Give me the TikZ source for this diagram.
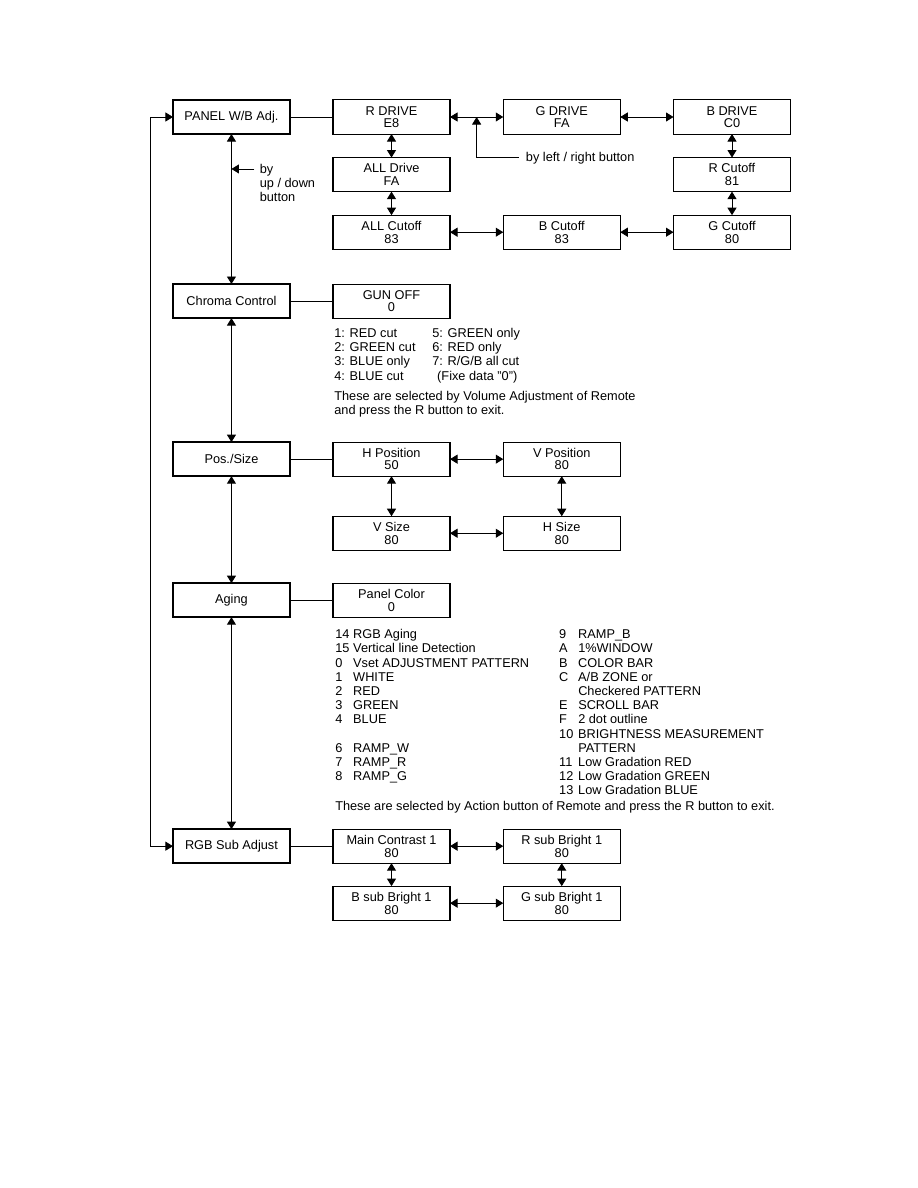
\documentclass[tikz,border=0pt]{standalone}
\usepackage{fontspec}
\setmainfont{Liberation Sans}
\usetikzlibrary{arrows.meta,positioning,calc}

\begin{document}
\begin{tikzpicture}[node distance=15.7pt and 35.5pt,
  >={Triangle[length=5pt,width=6pt]},
  mainbox/.style={draw,line width=1.3pt,minimum width=78pt,minimum height=22.7pt,
    inner sep=1pt,outer sep=0pt,font=\fontsize{8.5}{8.7}\selectfont},
  subbox/.style={draw,line width=0.7pt,minimum width=78pt,minimum height=22.7pt,
    inner sep=1pt,outer sep=0pt,text depth=0pt,align=center,
    font=\fontsize{8.5}{8.3}\selectfont},
  link/.style={line width=0.6pt},
  note/.style={inner sep=0pt,anchor=base west,font=\fontsize{8.5}{9.47}\selectfont}]
\useasboundingbox (0,0) rectangle (612pt,-792pt);
\node[mainbox] (panel) at (154.3pt,-78pt) {PANEL W/B Adj.};
\node[mainbox,below=100pt of panel] (chroma) {Chroma Control};
\node[mainbox,below=82.7pt of chroma] (possize) {Pos./Size};
\node[mainbox,below=71.3pt of possize] (aging) {Aging};
\node[mainbox,below=141.3pt of aging] (rgbsub) {RGB Sub Adjust};
\draw[link,<->] (panel) -- (chroma);
\draw[link,<->] (chroma) -- (possize);
\draw[link,<->] (possize) -- (aging);
\draw[link,<->] (aging) -- (rgbsub);
\coordinate (loop) at ($(panel.west)+(-14.7pt,0)$);
\draw[link,<->] (panel.west) -- (loop) |- (rgbsub.west);
\coordinate (udtip) at ($(panel.south)+(0,-23.3pt)$);
\coordinate (udfrom) at ($(udtip)+(15.3pt,0)$);
\draw[link,->] (udfrom) -- (udtip);
\node[note] (updown) at ($(udtip)+(18.7pt,-3pt)$)
  {\begin{tabular}[t]{@{}l@{}}by\\up / down\\button\end{tabular}};

\node[subbox,right=28.7pt of panel] (rdrive) {R DRIVE\\E8};
\node[subbox,right=of rdrive] (gdrive) {G DRIVE\\FA};
\node[subbox,right=of gdrive] (bdrive) {B DRIVE\\C0};
\node[subbox,below=of rdrive] (alldrive) {ALL Drive\\FA};
\node[subbox,below=of alldrive] (allcut) {ALL Cutoff\\83};
\node[subbox,right=of allcut] (bcut) {B Cutoff\\83};
\node[subbox,below=of bdrive] (rcut) {R Cutoff\\81};
\node[subbox,below=of rcut] (gcut) {G Cutoff\\80};
\draw[link] (panel) -- (rdrive);
\draw[link,<->] (rdrive) -- (gdrive);
\draw[link,<->] (gdrive) -- (bdrive);
\draw[link,<->] (bdrive) -- (rcut);
\draw[link,<->] (rcut) -- (gcut);
\draw[link,<->] (gcut) -- (bcut);
\draw[link,<->] (bcut) -- (allcut);
\draw[link,<->] (allcut) -- (alldrive);
\draw[link,<->] (alldrive) -- (rdrive);
\coordinate (lrtip) at ($(rdrive.east)!0.5!(gdrive.west)$);
\coordinate (lrturn) at ($(lrtip)+(0,-26.7pt)$);
\coordinate (lrfrom) at ($(lrturn)+(28pt,0)$);
\draw[link,->] (lrfrom) -- (lrturn) -- (lrtip);
\node[note] (lrnote) at ($(lrfrom)+(4.7pt,-3pt)$) {by left / right button};

\node[subbox,right=28.7pt of chroma] (gunoff) {GUN OFF\\0};
\draw[link] (chroma) -- (gunoff);
\node[note] (gunlist) at ($(gunoff.south west)+(0.7pt,-13pt)$)
  {\begin{tabular}[t]{@{}p{65.3pt}@{}l@{}}
  1: RED cut & 5: GREEN only\\
  2: GREEN cut & 6: RED only\\
  3: BLUE only & 7: R/G/B all cut\\
  4: BLUE cut & \hspace{3.3pt}(Fixe data "0")\\[3.9pt]
  \multicolumn{2}{@{}l@{}}{These are selected by Volume Adjustment of Remote}\\
  \multicolumn{2}{@{}l@{}}{and press the R button to exit.}
  \end{tabular}};

\node[subbox,right=28.7pt of possize] (hpos) {H Position\\50};
\node[subbox,right=of hpos] (vpos) {V Position\\80};
\node[subbox,below=26.7pt of hpos] (vsize) {V Size\\80};
\node[subbox,right=of vsize] (hsize) {H Size\\80};
\draw[link] (possize) -- (hpos);
\draw[link,<->] (hpos) -- (vpos);
\draw[link,<->] (hpos) -- (vsize);
\draw[link,<->] (vpos) -- (hsize);
\draw[link,<->] (vsize) -- (hsize);

\node[subbox,right=28.7pt of aging] (panelcol) {Panel Color\\0};
\draw[link] (aging) -- (panelcol);
\node[note] (patlist) at ($(panelcol.south west)+(1.3pt,-14.3pt)$)
  {\begin{tabular}[t]{@{}p{12pt}@{}p{137.3pt}@{}p{12.7pt}@{}l@{}}
  14 & RGB Aging & 9 & RAMP\_B\\
  15 & Vertical line Detection & A & 1\%WINDOW\\
  0 & Vset ADJUSTMENT PATTERN & B & COLOR BAR\\
  1 & WHITE & C & A/B ZONE or\\
  2 & RED & & Checkered PATTERN\\
  3 & GREEN & E & SCROLL BAR\\
  4 & BLUE & F & 2 dot outline\\
  & & 10 & BRIGHTNESS MEASUREMENT\\
  6 & RAMP\_W & & PATTERN\\
  7 & RAMP\_R & 11 & Low Gradation RED\\
  8 & RAMP\_G & 12 & Low Gradation GREEN\\
  & & 13 & Low Gradation BLUE\\[1.2pt]
  \multicolumn{4}{@{}l@{}}{These are selected by Action button of Remote and press the R button to exit.}
  \end{tabular}};

\node[subbox,right=28.7pt of rgbsub] (maincon) {Main Contrast 1\\80};
\node[subbox,right=of maincon] (rsub) {R sub Bright 1\\80};
\node[subbox,below=15.3pt of maincon] (bsub) {B sub Bright 1\\80};
\node[subbox,right=of bsub] (gsub) {G sub Bright 1\\80};
\draw[link] (rgbsub) -- (maincon);
\draw[link,<->] (maincon) -- (rsub);
\draw[link,<->] (maincon) -- (bsub);
\draw[link,<->] (rsub) -- (gsub);
\draw[link,<->] (bsub) -- (gsub);
\end{tikzpicture}
\end{document}
